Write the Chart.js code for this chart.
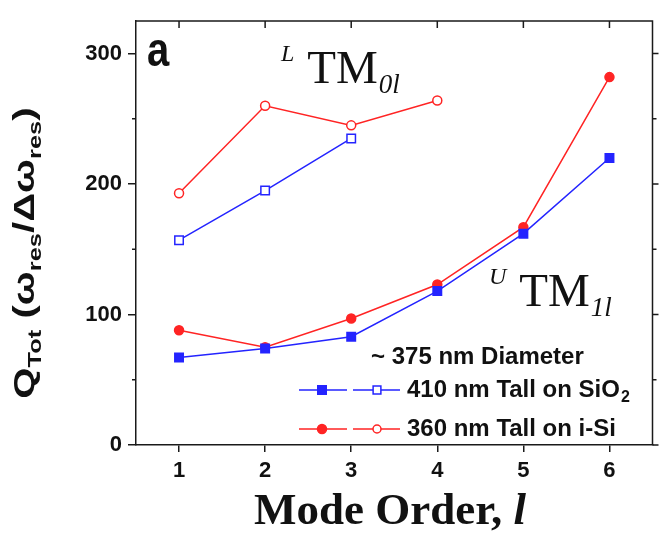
<!DOCTYPE html>
<html>
<head>
<meta charset="utf-8">
<script src="https://cdn.jsdelivr.net/npm/chart.js@4.4.0/dist/chart.umd.min.js"></script>
<style>
  html, body { margin: 0; padding: 0; background: #fff; }
  #wrap { width: 660px; height: 538px; position: relative; }
</style>
</head>
<body>
<div id="wrap"><canvas id="chart-q"></canvas></div>
<script>
// Mode order (x) and Q values
var modeOrder      = [1, 2, 3, 4, 5, 6];
var modeOrderLower = [1, 2, 3, 4];
var sio2Upper = [67, 74, 83, 118, 162, 220];   // 410 nm on SiO2, UTM1l (filled squares)
var isiUpper  = [88, 75, 97, 123, 167, 282];   // 360 nm on i-Si, UTM1l (filled circles)
var sio2Lower = [157, 195, 235];               // 410 nm on SiO2, LTM0l (open squares)
var isiLower  = [193, 260, 245, 264];          // 360 nm on i-Si, LTM0l (open circles)
var yTicks = [0, 100, 200, 300];
var yMinorTicks = [50, 150, 250];
var legendTitle = "~ 375 nm Diameter";
var legendRows = ["410 nm Tall on SiO", "360 nm Tall on i-Si"];
var legendSubs = ["2", ""];

var BLUE = '#2424ff';
var RED = '#ff2424';
var INK = '#1a1a1a';
var SANS = '"Liberation Sans", Arial, sans-serif';
var SERIF = '"Liberation Serif", "Times New Roman", serif';

function pts(xs, ys) {
  var out = [];
  for (var i = 0; i < ys.length; i++) out.push({ x: xs[i], y: ys[i] });
  return out;
}

function series(data, color, style, filled, radius) {
  return {
    data: data,
    showLine: true,
    borderColor: color,
    borderWidth: 1.5,
    pointStyle: style,
    pointRadius: radius,
    pointBorderWidth: 1.5,
    pointBorderColor: color,
    pointBackgroundColor: filled ? color : '#fff'
  };
}

// draws a string made of [text, isSub] pieces starting at x
function drawPieces(ctx, pieces, x, y, mainFont, subFont, subShift) {
  for (var i = 0; i < pieces.length; i++) {
    ctx.font = pieces[i][1] ? subFont : mainFont;
    ctx.fillText(pieces[i][0], x, y + (pieces[i][1] ? subShift : 0));
    x += ctx.measureText(pieces[i][0]).width;
  }
  return x;
}
function piecesWidth(ctx, pieces, mainFont, subFont) {
  var w = 0;
  for (var i = 0; i < pieces.length; i++) {
    ctx.font = pieces[i][1] ? subFont : mainFont;
    w += ctx.measureText(pieces[i][0]).width;
  }
  return w;
}

var decor = {
  id: 'decor',
  afterDraw: function(chart) {
    var ctx = chart.ctx;
    var a = chart.chartArea;
    var xs = chart.scales.x, ys = chart.scales.y;
    ctx.save();

    // frame top/right
    ctx.strokeStyle = INK;
    ctx.lineWidth = 1.5;
    ctx.beginPath();
    ctx.moveTo(a.left, a.top); ctx.lineTo(a.right, a.top); ctx.lineTo(a.right, a.bottom);
    ctx.stroke();

    // top ticks (inward)
    ctx.beginPath();
    xs.ticks.forEach(function(t) {
      var px = xs.getPixelForValue(t.value);
      ctx.moveTo(px, a.top); ctx.lineTo(px, a.top + 7);
    });
    // right ticks, left minor ticks
    ys.ticks.forEach(function(t) {
      var py = ys.getPixelForValue(t.value);
      ctx.moveTo(a.right, py); ctx.lineTo(a.right + 6, py);
    });
    yMinorTicks.forEach(function(v) {
      var py = ys.getPixelForValue(v);
      ctx.moveTo(a.left, py); ctx.lineTo(a.left - 4, py);
      ctx.moveTo(a.right, py); ctx.lineTo(a.right + 4, py);
    });
    ctx.stroke();

    ctx.fillStyle = '#111';
    ctx.textBaseline = 'alphabetic';
    ctx.textAlign = 'left';

    // panel letter
    ctx.save();
    ctx.translate(147, 66);
    ctx.scale(1, 1.2);
    ctx.font = 'bold 40px ' + SANS;
    ctx.fillText('a', 0, 0);
    ctx.restore();

    // mode family labels
    function modeLabel(x, y, sup, sub) {
      ctx.font = 'italic 24px ' + SERIF;
      ctx.fillText(sup, x, y - 22);
      var tx = x + ctx.measureText(sup).width + 13;
      ctx.font = '47px ' + SERIF;
      ctx.fillText('TM', tx, y);
      tx += ctx.measureText('TM').width + 1;
      ctx.font = 'italic 27px ' + SERIF;
      ctx.fillText(sub, tx, y + 10);
    }
    modeLabel(281, 83, 'L', '0l');
    modeLabel(489, 306, 'U', '1l');

    // legend
    ctx.font = 'bold 24px ' + SANS;
    ctx.textBaseline = 'middle';
    ctx.fillText(legendTitle, 371, 357);
    var rowY = [390, 429];
    for (var r = 0; r < 2; r++) {
      var filledDs = chart.data.datasets[r];
      var openDs = chart.data.datasets[r + 2];
      var y = rowY[r];
      ctx.strokeStyle = filledDs.borderColor;
      ctx.lineWidth = 1.5;
      ctx.beginPath();
      ctx.moveTo(299, y); ctx.lineTo(347, y);
      ctx.moveTo(353, y); ctx.lineTo(400, y);
      ctx.stroke();
      ctx.fillStyle = filledDs.pointBackgroundColor;
      Chart.helpers.drawPoint(ctx, { pointStyle: filledDs.pointStyle, radius: filledDs.pointRadius, borderWidth: 1.5, rotation: 0 }, 322, y);
      ctx.fillStyle = openDs.pointBackgroundColor;
      Chart.helpers.drawPoint(ctx, { pointStyle: openDs.pointStyle, radius: openDs.pointRadius - 0.5, borderWidth: 1.5, rotation: 0 }, 377, y);
      ctx.fillStyle = '#111';
      ctx.font = 'bold 24px ' + SANS;
      ctx.fillText(legendRows[r], 407, y);
      if (legendSubs[r]) {
        var w = ctx.measureText(legendRows[r]).width;
        ctx.font = 'bold 16px ' + SANS;
        ctx.fillText(legendSubs[r], 407 + w + 1, y + 8);
      }
    }

    // x title
    ctx.textBaseline = 'alphabetic';
    var xt = [['Mode Order, ', 'bold 45px ' + SERIF], ['l', 'bold italic 45px ' + SERIF]];
    var tw = 0;
    xt.forEach(function(p) { ctx.font = p[1]; tw += ctx.measureText(p[0]).width; });
    var sx = 390 - tw / 2;
    xt.forEach(function(p) { ctx.font = p[1]; ctx.fillText(p[0], sx, 524); sx += ctx.measureText(p[0]).width; });

    // y title, rotated
    var yt = [['Q', 0], ['Tot', 1], [' (\u03c9', 0], ['res', 1], ['/\u0394\u03c9', 0], ['res', 1], [')', 0]];
    var mainF = 'bold 30px ' + SANS, subF = 'bold 19px ' + SANS;
    ctx.save();
    ctx.translate(34, 253);
    ctx.rotate(-Math.PI / 2);
    ctx.scale(1.34, 1);
    var yw = piecesWidth(ctx, yt, mainF, subF);
    drawPieces(ctx, yt, -yw / 2, 0, mainF, subF, 7);
    ctx.restore();

    ctx.restore();
  }
};

var tickFont = { family: SANS, size: 22, weight: 'bold' };

function fixedTicks(values) {
  return function(s) { s.ticks = values.map(function(v) { return { value: v }; }); };
}

new Chart(document.getElementById('chart-q').getContext('2d'), {
  type: 'scatter',
  data: {
    datasets: [
      series(pts(modeOrder, sio2Upper), BLUE, 'rect', true, 6),
      series(pts(modeOrder, isiUpper), RED, 'circle', true, 4.5),
      series(pts(modeOrderLower, sio2Lower), BLUE, 'rect', false, 6),
      series(pts(modeOrderLower, isiLower), RED, 'circle', false, 4.5)
    ]
  },
  options: {
    responsive: true,
    maintainAspectRatio: false,
    devicePixelRatio: 1,
    animation: false,
    layout: { padding: { top: 21, right: 4, left: 0, bottom: 0 } },
    plugins: { legend: { display: false }, tooltip: { enabled: false } },
    scales: {
      x: {
        type: 'linear',
        min: 0.5,
        max: 6.5,
        afterBuildTicks: fixedTicks(modeOrder),
        ticks: { font: tickFont, color: '#111', padding: 6 },
        grid: { drawOnChartArea: false, tickLength: 7, color: INK, lineWidth: 1.5 },
        border: { color: INK, width: 1.5 },
        afterFit: function(s) { s.height = 93; }
      },
      y: {
        type: 'linear',
        min: 0,
        max: 325,
        afterBuildTicks: fixedTicks(yTicks),
        ticks: { font: tickFont, color: '#111', padding: 6 },
        grid: { drawOnChartArea: false, tickLength: 8, color: INK, lineWidth: 1.5 },
        border: { color: INK, width: 1.5 },
        afterFit: function(s) { s.width = 136; }
      }
    }
  },
  plugins: [decor]
});
</script>
</body>
</html>
